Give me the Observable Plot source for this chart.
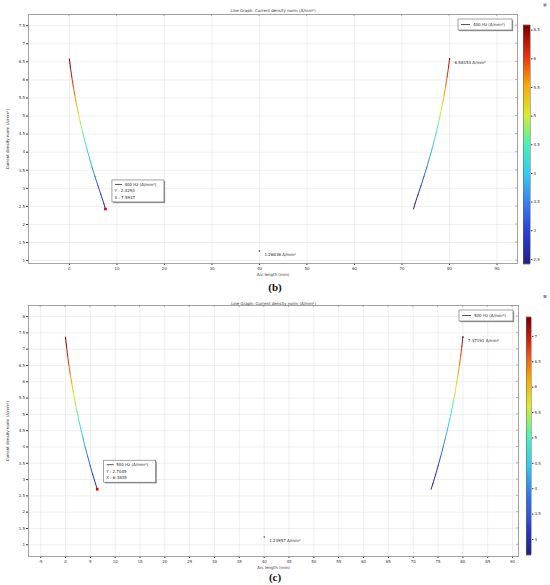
<!DOCTYPE html>
<html>
<head>
<meta charset="utf-8">
<script src="https://cdn.jsdelivr.net/npm/d3@7"></script>
<script src="https://cdn.jsdelivr.net/npm/@observablehq/plot@0.6"></script>
<style>
  html, body { margin: 0; padding: 0; background: #fff; }
  #root { position: relative; width: 550px; height: 585px; overflow: hidden; font-family: "DejaVu Sans", sans-serif; }
  .abs { position: absolute; }
  .cap { position: absolute; left: 0; width: 550px; text-align: center; font-family: "Liberation Serif", "DejaVu Serif", serif; font-weight: bold; font-size: 11px; color: #111; line-height: 15px; }
</style>
</head>
<body>
<div id="root"></div>
<script>
// ---------- Data ----------
// Panel (b): 400 Hz
const arcB_left  = [0, 0.24, 0.51, 0.81, 1.14, 1.50, 1.88, 2.30, 2.74, 3.21, 3.71, 4.24, 4.79, 5.38, 5.99, 6.63, 7.25, 7.5917];
const jB_left    = [6.58153, 6.33, 6.08, 5.83, 5.58, 5.33, 5.08, 4.83, 4.58, 4.33, 4.08, 3.83, 3.58, 3.33, 3.08, 2.83, 2.58, 2.4293];
const arcB_right = [72.41, 72.75, 73.37, 74.01, 74.62, 75.21, 75.76, 76.29, 76.79, 77.26, 77.70, 78.12, 78.50, 78.86, 79.19, 79.49, 79.76, 80];
const jB_right   = [2.4293, 2.58, 2.83, 3.08, 3.33, 3.58, 3.83, 4.08, 4.33, 4.58, 4.83, 5.08, 5.33, 5.58, 5.83, 6.08, 6.33, 6.58153];
const markB_arc  = [80, 40];
const markB_j    = [6.58153, 1.26636];
const markB_txt  = ["6.58153 A/mm²", "1.26636 A/mm²"];
const probeB     = {arc: 7.5917, j: 2.4293};
const seriesB    = "400 Hz (A/mm²)";
const cRangeB    = [2.4293, 6.58153];

// Panel (c): 500 Hz
const arcC_left  = [0, 0.20, 0.42, 0.67, 0.94, 1.24, 1.56, 1.90, 2.26, 2.65, 3.07, 3.51, 3.96, 4.45, 4.95, 5.48, 6.04, 6.3835];
const jC_left    = [7.37191, 7.091, 6.810, 6.529, 6.248, 5.967, 5.686, 5.405, 5.124, 4.843, 4.562, 4.281, 4.000, 3.719, 3.437, 3.156, 2.875, 2.7045];
const arcC_right = [73.6165, 73.96, 74.52, 75.05, 75.55, 76.04, 76.49, 76.93, 77.35, 77.74, 78.10, 78.44, 78.76, 79.06, 79.33, 79.58, 79.80, 80];
const jC_right   = [2.7045, 2.875, 3.156, 3.437, 3.719, 4.000, 4.281, 4.562, 4.843, 5.124, 5.405, 5.686, 5.967, 6.248, 6.529, 6.810, 7.091, 7.37191];
const markC_arc  = [80, 40];
const markC_j    = [7.37191, 1.23957];
const markC_txt  = ["7.37191 A/mm²", "1.23957 A/mm²"];
const probeC     = {arc: 6.3835, j: 2.7045};
const seriesC    = "500 Hz (A/mm²)";
const cRangeC    = [2.7045, 7.37191];

// Tick labels
const ticksXB  = [0, 10, 20, 30, 40, 50, 60, 70, 80, 90];
const ticksYB  = [1, 1.5, 2, 2.5, 3, 3.5, 4, 4.5, 5, 5.5, 6, 6.5, 7, 7.5];
const cbTicksB = [2.5, 3, 3.5, 4, 4.5, 5, 5.5, 6, 6.5];
const ticksXC  = [-5, 0, 5, 10, 15, 20, 25, 30, 35, 40, 45, 50, 55, 60, 65, 70, 75, 80, 85, 90];
const ticksYC  = [1, 1.5, 2, 2.5, 3, 3.5, 4, 4.5, 5, 5.5, 6, 6.5, 7, 7.5, 8];
const cbTicksC = [3, 3.5, 4, 4.5, 5, 5.5, 6, 6.5, 7];

const titleText = "Line Graph: Current density norm (A/mm²)";
const xLabel = "Arc length (mm)";
const yLabel = "Current density norm (A/mm²)";

// Rainbow colour map (COMSOL-like)
const rainbowColors = ["#22227e", "#2a3cd0", "#3276ea", "#38c8f0", "#48f0b4", "#d8ec34", "#f5a600", "#e63212", "#7a0000"];
const rainbow = d3.piecewise(d3.interpolateRgb, rainbowColors);

const zip = (a, b) => a.map((v, i) => ({arc: v, j: b[i]}));
const fmt = d => String(d);
const FONT = "DejaVu Sans";

function makePanel(cfg) {
  const W = 550, H = 280;
  const left = zip(cfg.arcL, cfg.jL);
  const right = zip(cfg.arcR, cfg.jR);
  const marks = cfg.markArc.map((v, i) => ({arc: v, j: cfg.markJ[i], t: cfg.markTxt[i]}));
  const colorOpt = {type: "linear", domain: cfg.cRange, interpolate: rainbow};

  const chart = Plot.plot({
    width: W, height: H,
    marginLeft: cfg.fl, marginRight: W - cfg.fr, marginTop: cfg.ft, marginBottom: H - cfg.fb,
    x: {domain: cfg.xdom},
    y: {domain: cfg.ydom},
    color: colorOpt,
    style: {fontFamily: FONT, fontSize: "4px", color: "#333", background: "transparent", overflow: "visible"},
    marks: [
      Plot.gridX(cfg.xt, {stroke: "#e4e4e4", strokeOpacity: 1, strokeWidth: 0.6}),
      Plot.gridY(cfg.yt, {stroke: "#e4e4e4", strokeOpacity: 1, strokeWidth: 0.6}),
      Plot.axisX(cfg.xt, {anchor: "bottom", tickSize: 2, tickPadding: 1.5, tickFormat: fmt, fill: "#333",
        label: xLabel, labelAnchor: "center", labelArrow: "none", labelOffset: 12, fontSize: 4}),
      Plot.axisY(cfg.yt, {anchor: "left", tickSize: 2, tickPadding: 1.5, tickFormat: fmt, fill: "#333",
        label: yLabel, labelAnchor: "center", labelArrow: "none", labelOffset: 22, fontSize: 4}),
      Plot.frame({stroke: "#9a9a9a", strokeWidth: 0.9}),
      Plot.line(left,  {x: "arc", y: "j", stroke: "j", z: null, strokeWidth: 1.0}),
      Plot.line(right, {x: "arc", y: "j", stroke: "j", z: null, strokeWidth: 1.0}),
      Plot.dot(marks, {x: "arc", y: "j", r: 0.7, fill: "#222", stroke: null}),
      Plot.text(marks, {x: "arc", y: "j", text: "t", dx: 5, dy: 4, textAnchor: "start", fontSize: 4, fill: "#222"}),
      Plot.dot([cfg.probe], {x: "arc", y: "j", symbol: "square", r: 1.5, fill: "#e00000", stroke: null}),
      Plot.text([titleText], {frameAnchor: "top", dy: cfg.titleDy, fontSize: 4, fill: "#333"})
    ]
  });

  const svg = d3.select(chart);
  const sx = chart.scale("x"), sy = chart.scale("y");

  // inward ticks on top and right edges
  const gT = svg.append("g").attr("stroke", "#888").attr("stroke-width", 0.6);
  cfg.xt.forEach(v => { const x = sx.apply(v); gT.append("line").attr("x1", x).attr("x2", x).attr("y1", cfg.ft).attr("y2", cfg.ft + 2); });
  cfg.yt.forEach(v => { const y = sy.apply(v); gT.append("line").attr("x1", cfg.fr).attr("x2", cfg.fr - 2).attr("y1", y).attr("y2", y); });

  function box(x, y, w, h) {
    const g = svg.append("g").attr("text-anchor", "start");
    g.append("rect").attr("x", x + 1.2).attr("y", y + 1.2).attr("width", w).attr("height", h).attr("fill", "#9a9a9a");
    g.append("rect").attr("x", x).attr("y", y).attr("width", w).attr("height", h).attr("fill", "#fff").attr("stroke", "#666").attr("stroke-width", 0.6);
    return g;
  }
  function txt(g, x, y, s) {
    g.append("text").attr("x", x).attr("y", y).attr("text-anchor", "start").attr("font-size", 4)
      .attr("font-family", FONT).attr("fill", "#222").text(s);
  }

  // legend box (top-right of frame)
  const lw = 54, lh = 11;
  const lx = cfg.fr - 5 - lw, ly = cfg.ft + 5;
  const lg = box(lx, ly, lw, lh);
  lg.append("line").attr("x1", lx + 3).attr("x2", lx + 12).attr("y1", ly + lh / 2).attr("y2", ly + lh / 2).attr("stroke", "#444").attr("stroke-width", 0.9);
  txt(lg, lx + 15, ly + lh / 2 + 1.4, cfg.series);

  // probe tooltip box
  const px = sx.apply(cfg.probe.arc), py = sy.apply(cfg.probe.j);
  const bx = px + 7, by = py - 28.5, bw = 52, bh = 22;
  const tg = box(bx, by, bw, bh);
  tg.append("line").attr("x1", bx + 3).attr("x2", bx + 10).attr("y1", by + 4.5).attr("y2", by + 4.5).attr("stroke", "#444").attr("stroke-width", 0.9);
  txt(tg, bx + 12.5, by + 5.8, cfg.series);
  txt(tg, bx + 2.5, by + 12.3, "Y : " + cfg.probe.j);
  txt(tg, bx + 2.5, by + 18.8, "X : " + cfg.probe.arc);

  // tiny toolbar icon
  svg.append("rect").attr("x", 543.5).attr("y", cfg.iconY).attr("width", 3).attr("height", 3).attr("fill", "#6f95c8");

  // Colour bar
  const cbW = 30;
  const cbInner = cfg.cbR - cfg.cbL;
  const n = 240, step = (cfg.cRange[1] - cfg.cRange[0]) / n;
  const bands = d3.range(n + 1).map(i => cfg.cRange[0] + i * step);
  const cb = Plot.plot({
    width: cbW, height: H,
    marginLeft: 1, marginRight: cbW - 1 - cbInner, marginTop: cfg.cbT, marginBottom: H - cfg.cbB,
    x: {domain: [0, 1], axis: null},
    y: {domain: cfg.cRange},
    color: colorOpt,
    style: {fontFamily: FONT, fontSize: "4px", color: "#333", background: "transparent", overflow: "visible"},
    marks: [
      Plot.ruleY(bands, {y: d => d, stroke: d => d, strokeWidth: 1.6}),
      Plot.frame({stroke: "#666", strokeWidth: 0.5}),
      Plot.axisY(cfg.cbt, {anchor: "right", tickSize: 1.5, tickPadding: 1.5, tickFormat: fmt, label: null, fill: "#333", fontSize: 4})
    ]
  });

  const wrap = document.createElement("div");
  wrap.className = "abs";
  wrap.style.left = "0px"; wrap.style.top = cfg.top + "px";
  wrap.style.width = W + "px"; wrap.style.height = H + "px";
  chart.style.position = "absolute"; chart.style.left = "0px"; chart.style.top = "0px";
  cb.style.position = "absolute"; cb.style.left = (cfg.cbL - 1) + "px"; cb.style.top = "0px";
  wrap.appendChild(chart);
  wrap.appendChild(cb);

  const cap = document.createElement("div");
  cap.className = "cap";
  cap.style.top = (cfg.top + H) + "px";
  cap.textContent = cfg.caption;

  const root = document.getElementById("root");
  root.appendChild(wrap);
  root.appendChild(cap);
}

makePanel({
  top: 0, fl: 28, fr: 517, ft: 14, fb: 263,
  xdom: [-8.6, 94.3], ydom: [0.92, 7.81],
  xt: ticksXB, yt: ticksYB, cbt: cbTicksB,
  arcL: arcB_left, jL: jB_left, arcR: arcB_right, jR: jB_right,
  markArc: markB_arc, markJ: markB_j, markTxt: markB_txt,
  probe: probeB, series: seriesB, cRange: cRangeB,
  cbL: 523, cbR: 530, cbT: 25, cbB: 263,
  titleDy: -5, iconY: 3.5, caption: "(b)"
});

makePanel({
  top: 290, fl: 28, fr: 518, ft: 15, fb: 266,
  xdom: [-7.45, 91.2], ydom: [0.64, 8.34],
  xt: ticksXC, yt: ticksYC, cbt: cbTicksC,
  arcL: arcC_left, jL: jC_left, arcR: arcC_right, jR: jC_right,
  markArc: markC_arc, markJ: markC_j, markTxt: markC_txt,
  probe: probeC, series: seriesC, cRange: cRangeC,
  cbL: 526, cbR: 531, cbT: 27, cbB: 264,
  titleDy: -3.5, iconY: 5, caption: "(c)"
});
</script>
</body>
</html>
